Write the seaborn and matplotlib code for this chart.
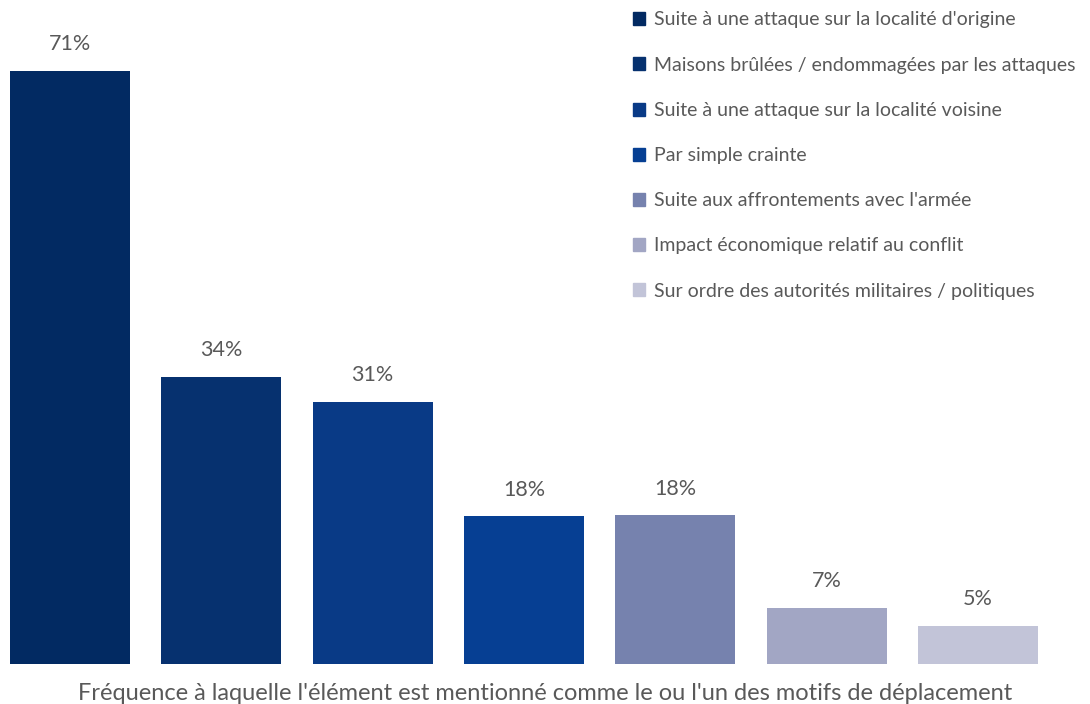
import matplotlib
matplotlib.use("Agg")
import matplotlib.pyplot as plt
import seaborn as sns
import pandas as pd

# motifs de déplacement et fréquences (%)
motifs = [
    "Suite à une attaque sur la localité d'origine",
    "Maisons brûlées / endommagées par les attaques",
    "Suite à une attaque sur la localité voisine",
    "Par simple crainte",
    "Suite aux affrontements avec l'armée",
    "Impact économique relatif au conflit",
    "Sur ordre des autorités militaires / politiques",
]
frequences = [71, 34.4, 31.4, 17.7, 17.8, 6.7, 4.6]
couleurs = ["#022a62", "#06316f", "#093a86", "#063f93", "#7682ae", "#a2a6c4", "#c2c4d8"]

df = pd.DataFrame({"motif": motifs, "freq": frequences})

sns.set_style("white")
plt.rcParams['font.family'] = ['Lato', 'DejaVu Sans']
gris = "#595959"

fig = plt.figure(figsize=(10.9, 7.04), dpi=100)
ax = fig.add_axes([0, 40 / 704, 1, 664 / 704])

sns.barplot(data=df, x="motif", y="freq", hue="motif", palette=couleurs,
            order=motifs, hue_order=motifs, dodge=False, width=0.793,
            saturation=1, linewidth=0, legend=False, ax=ax)

for c in ax.containers:
    ax.bar_label(c, labels=[f"{v:.0f}%" for v in c.datavalues],
                 padding=12, fontsize=15.5, color=gris)

ax.set_xlim(-70 / 151.33, (1090 - 70) / 151.33)
ax.set_ylim(0, 71 * 664 / 593)
ax.set_xticks([])
ax.set_yticks([])
ax.set_ylabel("")
ax.set_xlabel("")
sns.despine(ax=ax, left=True, bottom=True)

fig.text(0.5, 11 / 704, "Fréquence à laquelle l'élément est mentionné comme le ou l'un des motifs de déplacement",
         ha="center", va="center", fontsize=17, color=gris)

handles = [plt.Rectangle((0, 0), 1, 1, color=c) for c in couleurs]
leg = ax.legend(handles, motifs, loc="upper left", bbox_to_anchor=(615 / 1090, 1 + 6 / 664),
                frameon=False, fontsize=14, labelcolor=gris, handlelength=0.65,
                handleheight=0.65, handletextpad=0.45, labelspacing=1.45)

fig.savefig("out.png", dpi=100)
